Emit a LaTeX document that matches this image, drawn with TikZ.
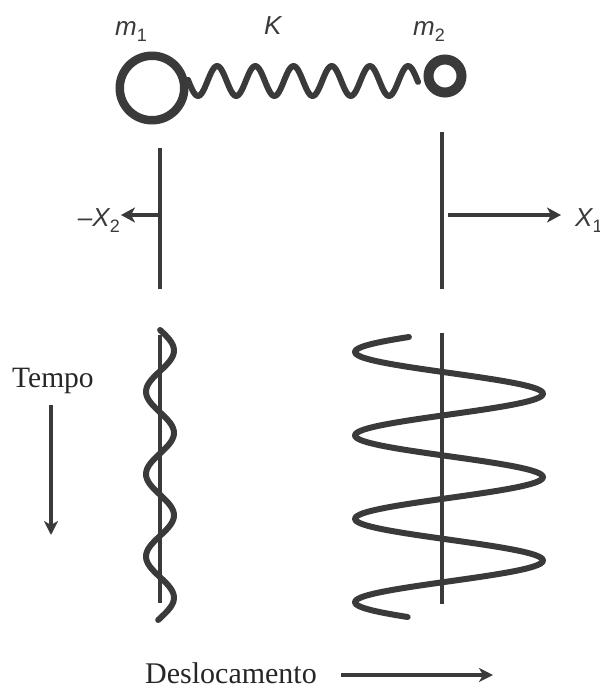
\documentclass[tikz,border=0pt]{standalone}
\usepackage{fontspec}
\setmainfont{Liberation Serif}
\newfontfamily\lsans{Liberation Sans}
\usetikzlibrary{arrows.meta}
\definecolor{ink}{HTML}{3A3A3A}
\begin{document}
\begin{tikzpicture}[x=1pt,y=-1pt,
  ink line/.style={draw=ink,line width=#1},
  mass/.style={circle,draw=ink,inner sep=0pt,outer sep=0pt},
  wave/.style={draw=ink,line width=6pt,line cap=round,line join=round},
  sans label/.style={text=ink,font=\lsans\itshape\fontsize{26}{26}\selectfont,inner sep=0pt},
  serif label/.style={text=black!85,font=\fontsize{#1}{30}\selectfont,inner sep=0pt},
  big tip/.style={-{Stealth[length=14pt,width=15pt,inset=4pt]}},
  thin tip/.style={-{Stealth[length=14pt,width=14pt,inset=4pt]}}]
\useasboundingbox (0,0) rectangle (600,686);
% masses
\node[mass,line width=8.5pt,minimum size=64.5pt] (m1) at (152,88) {};
\node[mass,line width=10pt,minimum size=33pt] (m2) at (445,76) {};
\node[sans label,anchor=base west] (lm1) at (115,35) {m\raisebox{-6pt}{\fontsize{18}{18}\selectfont\upshape 1}};
\node[sans label,anchor=base west] (lk) at (264,34) {K};
\node[sans label,anchor=base west] (lm2) at (413,35) {m\raisebox{-6pt}{\fontsize{18}{18}\selectfont\upshape 2}};
% spring
\draw[wave,smooth,samples=160,domain=188:418,variable=\t] plot ({\t},{81+15*cos((\t-198)/38.2*360)});
% displacement axes
\coordinate (la) at (160,148); \coordinate (lb) at (160,289);
\coordinate (ra) at (442,132); \coordinate (rb) at (442,289);
\draw[ink line=4.5pt] (la) -- (lb);
\draw[ink line=4.5pt] (ra) -- (rb);
\coordinate (lo) at (160,215); \coordinate (ro) at (448,215);
\coordinate (lt) at (121,215); \coordinate (rt) at (561,215);
\node[sans label,anchor=base east] (lx2) at (120,226) {\char"2013 X\raisebox{-6pt}{\fontsize{18}{18}\selectfont\upshape 2}};
\node[sans label,anchor=base west] (lx1) at (575,226) {X\raisebox{-6pt}{\fontsize{18}{18}\selectfont\upshape 1}};
\draw[ink line=4.5pt,big tip] (lo) -- (lt);
\draw[ink line=4.5pt,big tip] (ro) -- (rt);
% time traces
\coordinate (lc) at (160,335); \coordinate (ld) at (160,603);
\coordinate (rc) at (442,333); \coordinate (rd) at (442,604);
\draw[ink line=4.5pt] (lc) -- (ld);
\draw[ink line=4.5pt] (rc) -- (rd);
\draw[wave,smooth,samples=120,domain=330:620,variable=\t] plot ({160+14*cos((\t-350.5)/41.2*180)},{\t});
\draw[wave,smooth,samples=200,domain=337:617,variable=\t] plot ({449-94*cos((\t-352)/41.7*180)},{\t});
% captions
\node[serif label=29.5,anchor=base west] (tempo) at (12,387) {Tempo};
\coordinate (ta) at (51,405); \coordinate (tb) at (51,535);
\draw[ink line=4.5pt,thin tip] (ta) -- (tb);
\node[serif label=30,anchor=base west] (desl) at (145,683) {Deslocamento};
\coordinate (da) at (341,675); \coordinate (db) at (493,675);
\draw[ink line=4.5pt,thin tip] (da) -- (db);
\end{tikzpicture}
\end{document}
